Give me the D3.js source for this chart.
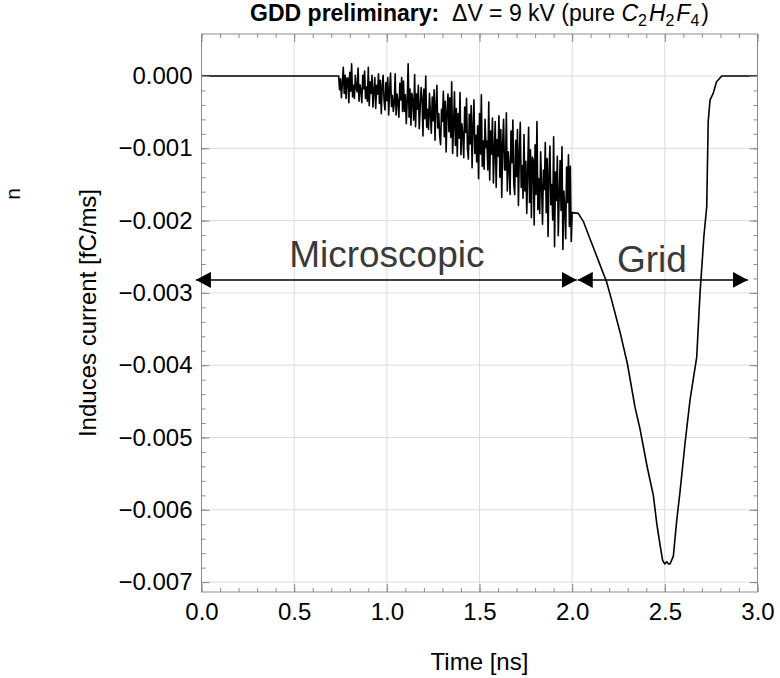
<!DOCTYPE html>
<html>
<head>
<meta charset="utf-8">
<script src="https://cdn.jsdelivr.net/npm/d3@7"></script>
<style>
  html, body { margin: 0; padding: 0; background: #fff; }
  svg { display: block; font-family: "Liberation Sans", Arial, Helvetica, sans-serif; }
</style>
</head>
<body>
<svg id="chart" width="780" height="678"></svg>
<script>
// ---------------- DATA (current values in units of 1e-4 fC/ms) ----------------
const VALUE_UNIT = 1e-4;

// flat baseline before the microscopic avalanche
const flatTimes  = [0.0, 0.74];
const flatValues = [0.0, 0.0];

// noisy microscopic region, sampled every 0.005 ns from 0.74 ns to 2.0 ns
const noiseStart = 0.74;
const noiseStep  = 0.005;
const noiseValues = [
  0.0, -1.9, -0.4, -3.0, -1.0, 1.2, -2.4, 0.1, -3.1, -0.3,
  -0.3, -3.7, 0.5, -2.1, 1.7, -2.9, -1.3, -3.1, 0.1, -1.7,
  -2.2, 1.1, -3.5, -1.2, -2.0, -3.7, 0.1, -1.8, 0.7, -3.1,
  -1.5, -3.5, 1.2, -4.1, -0.8, -2.4, 0.1, -4.3, -2.1, -0.2,
  -4.5, -1.3, -2.5, 0.3, -3.8, -0.6, -5.2, -1.5, 0.1, -3.4,
  -4.7, -0.9, -3.4, -0.2, -5.4, -1.9, 0.4, -4.2, -2.7, -4.9,
  -3.8, 0.3, -5.4, -2.5, -3.6, -5.7, -1.0, -3.3, -0.2, -4.9,
  -0.7, -4.9, -2.6, -6.6, -3.5, 1.7, -5.7, -1.8, -6.8, -2.4,
  -3.4, -6.1, 0.2, -7.0, -2.5, -4.6, -1.3, -7.3, -4.3, -1.6,
  -3.1, -8.3, -1.8, -5.9, 0.0, -7.1, -4.6, -7.4, -2.4, -5.2,
  -7.9, -2.9, -6.2, -1.9, -8.9, -4.2, -1.3, -7.2, -5.2, -8.2,
  -9.5, -4.6, -6.3, -2.1, -8.4, -3.5, -10.5, -4.9, -2.5, -7.7,
  -3.0, -8.5, -0.8, -10.7, -6.7, -2.2, -9.6, -4.5, -11.1, -5.2,
  -8.6, -2.3, -10.9, -6.6, -8.2, -11.3, -4.3, -7.8, -3.1, -10.1,
  -11.5, -5.3, -9.4, -4.1, -12.7, -7.0, -3.3, -10.7, -8.2, -11.9,
  -6.9, -14.2, -5.2, -10.8, -2.6, -12.5, -9.0, -12.9, -6.0, -9.9,
  -9.0, -13.0, -3.6, -14.4, -7.6, -10.8, -5.8, -14.8, -10.3, -6.3,
  -15.4, -8.8, -11.1, -5.5, -14.0, -7.4, -16.8, -9.3, -6.0, -13.0,
  -13.0, -5.1, -15.9, -10.5, -12.5, -16.4, -7.6, -12.0, -6.1, -14.9,
  -16.4, -8.9, -13.9, -7.4, -17.9, -10.9, -6.4, -15.4, -12.4, -16.9,
  -8.1, -15.9, -11.8, -19.0, -13.3, -7.1, -17.5, -10.2, -19.6, -11.2,
  -11.6, -20.6, -9.5, -16.4, -6.3, -18.5, -14.2, -19.0, -10.5, -15.3,
  -20.5, -13.0, -15.7, -9.2, -18.9, -11.4, -22.2, -13.5, -9.7, -17.8,
  -15.0, -19.9, -8.4, -23.6, -13.3, -17.2, -11.1, -22.1, -16.6, -11.7,
  -18.6, -9.8, -24.0, -15.9, -18.1, -22.5, -12.6, -17.5, -10.9, -20.8,
  -12.5, -22.9, -18.9
];

// grid (ion) pulse
const pulseTimes = [2.033, 2.06, 2.096, 2.141, 2.186, 2.213, 2.258, 2.298, 2.339, 2.366,
  2.402, 2.42, 2.438, 2.456, 2.472, 2.488, 2.5, 2.51, 2.52, 2.528, 2.546, 2.564, 2.582,
  2.609, 2.636, 2.672, 2.69, 2.711, 2.726, 2.734, 2.744, 2.761, 2.779, 2.807, 3.0];
const pulseValues = [-19.0, -20.1, -22.5, -25.5, -28.5, -31.0, -35.4, -39.8, -45.8, -48.8,
  -53.7, -55.9, -58.0, -61.8, -64.5, -67.0, -67.5, -67.2, -67.5, -67.5, -66.4, -61.5, -57.5,
  -50.8, -44.8, -38.9, -30.0, -22.1, -18.1, -6.3, -3.3, -2.4, -0.8, 0.0, 0.0];

// axis ticks
const xTicks = [0.0, 0.5, 1.0, 1.5, 2.0, 2.5, 3.0];
const xTickLabels = ["0.0", "0.5", "1.0", "1.5", "2.0", "2.5", "3.0"];
const yTicks = [0.000, -0.001, -0.002, -0.003, -0.004, -0.005, -0.006, -0.007];
const yTickLabels = ["0.000", "\u22120.001", "\u22120.002", "\u22120.003", "\u22120.004", "\u22120.005", "\u22120.006", "\u22120.007"];

// annotation arrows: [from time, to time], at current level (fC/ms)
const arrowLabels = ["Microscopic", "Grid"];
const arrowFrom   = [-0.03, 2.03];
const arrowTo     = [2.025, 2.948];
const arrowLevel  = -0.00282;

// ---------------- LAYOUT ----------------
const svg = d3.select("#chart");
const L = 201.5, R = 757.5, T = 34, B = 592;
const x = d3.scaleLinear().domain([0, 3]).range([L, R]);
const y = d3.scaleLinear().domain([-0.007137, 0.000581]).range([B, T]);

// gridlines
const grid = svg.append("g").attr("stroke", "#dcdcdc").attr("stroke-width", 1);
grid.selectAll("line.gx").data(xTicks).join("line")
  .attr("x1", d => x(d)).attr("x2", d => x(d)).attr("y1", T).attr("y2", B);
grid.selectAll("line.gy").data(yTicks).join("line")
  .attr("x1", L).attr("x2", R).attr("y1", d => y(d)).attr("y2", d => y(d));

// build the series
const series = [];
flatTimes.forEach((t, i) => series.push([t, flatValues[i] * VALUE_UNIT]));
noiseValues.forEach((v, i) => series.push([noiseStart + i * noiseStep, v * VALUE_UNIT]));
pulseTimes.forEach((t, i) => series.push([t, pulseValues[i] * VALUE_UNIT]));

const line = d3.line().x(d => x(d[0])).y(d => y(d[1]));
svg.append("path").datum(series)
  .attr("d", line).attr("fill", "none").attr("stroke", "#000")
  .attr("stroke-width", 1.6).attr("stroke-linejoin", "round");

// axes (Mathematica-style frame with inward ticks)
const minorX = d3.range(0, 3.0001, 0.1);
const minorY = d3.range(0, -0.0071, -0.0002);
function styleAxis(g) {
  g.select(".domain").remove();
  g.selectAll(".tick line").attr("stroke", "#8c8c8c");
  g.selectAll(".tick text").attr("fill", "#000").style("font-size", "24px")
    .style("font-family", "'Liberation Sans', Arial, Helvetica, sans-serif");
}
svg.append("g").attr("transform", `translate(0,${B})`)
  .call(d3.axisBottom(x).tickValues(minorX).tickSize(-4).tickFormat("")).call(styleAxis);
svg.append("g").attr("transform", `translate(0,${B})`)
  .call(d3.axisBottom(x).tickValues(xTicks).tickSize(-8).tickPadding(11)
    .tickFormat((d, i) => xTickLabels[i])).call(styleAxis);
svg.append("g").attr("transform", `translate(0,${T})`)
  .call(d3.axisTop(x).tickValues(minorX).tickSize(-4).tickFormat("")).call(styleAxis);
svg.append("g").attr("transform", `translate(0,${T})`)
  .call(d3.axisTop(x).tickValues(xTicks).tickSize(-8).tickFormat("")).call(styleAxis);
svg.append("g").attr("transform", `translate(${L},0)`)
  .call(d3.axisLeft(y).tickValues(minorY).tickSize(-4).tickFormat("")).call(styleAxis);
svg.append("g").attr("transform", `translate(${L},0)`)
  .call(d3.axisLeft(y).tickValues(yTicks).tickSize(-8).tickPadding(9)
    .tickFormat((d, i) => yTickLabels[i])).call(styleAxis);
svg.append("g").attr("transform", `translate(${R},0)`)
  .call(d3.axisRight(y).tickValues(minorY).tickSize(-4).tickFormat("")).call(styleAxis);
svg.append("g").attr("transform", `translate(${R},0)`)
  .call(d3.axisRight(y).tickValues(yTicks).tickSize(-8).tickFormat("")).call(styleAxis);

// frame
svg.append("rect").attr("x", L).attr("y", T).attr("width", R - L).attr("height", B - T)
  .attr("fill", "none").attr("stroke", "#8c8c8c").attr("stroke-width", 1);

// annotation arrows
const defs = svg.append("defs");
defs.append("marker").attr("id", "ah").attr("viewBox", "0 0 15 16")
  .attr("refX", 15).attr("refY", 8).attr("markerWidth", 15).attr("markerHeight", 16)
  .attr("markerUnits", "userSpaceOnUse").attr("orient", "auto-start-reverse")
  .append("path").attr("d", "M0,0 L15,8 L0,16 Z").attr("fill", "#000");

arrowLabels.forEach((lab, i) => {
  svg.append("line")
    .attr("x1", x(arrowFrom[i])).attr("x2", x(arrowTo[i]))
    .attr("y1", y(arrowLevel)).attr("y2", y(arrowLevel))
    .attr("stroke", "#000").attr("stroke-width", 1.5)
    .attr("marker-start", "url(#ah)").attr("marker-end", "url(#ah)");
});
svg.append("text").attr("x", x(1.0)).attr("y", 267).attr("text-anchor", "middle")
  .attr("fill", "#3a3a3a").style("font-size", "37px").text(arrowLabels[0]);
svg.append("text").attr("x", x(2.43)).attr("y", 272).attr("text-anchor", "middle")
  .attr("fill", "#3a3a3a").style("font-size", "37px").text(arrowLabels[1]);

// title
const title = svg.append("text").attr("x", (L + R) / 2).attr("y", 21)
  .attr("text-anchor", "middle").style("font-size", "23px").attr("fill", "#000");
title.append("tspan").attr("font-weight", "bold").text("GDD preliminary:");
title.append("tspan").attr("xml:space", "preserve").text("\u00a0\u00a0\u0394V = 9 kV (pure ");
const chem = [["C", "2"], ["H", "2"], ["F", "4"]];
chem.forEach(([el, n]) => {
  title.append("tspan").attr("font-style", "italic").text(el);
  title.append("tspan").attr("dy", 5).style("font-size", "16px").text(n);
  title.append("tspan").attr("dy", -5).text("\u200a");
});
title.append("tspan").text(")");

// axis labels
svg.append("text").attr("x", (L + R) / 2).attr("y", 670).attr("text-anchor", "middle")
  .style("font-size", "24px").attr("fill", "#000").text("Time [ns]");
svg.append("text").attr("transform", `translate(96,${(T + B) / 2}) rotate(-90)`)
  .attr("text-anchor", "middle").style("font-size", "24px").attr("fill", "#000")
  .text("Induces current [fC/ms]");
svg.append("text").attr("transform", "translate(20,194) rotate(-90)")
  .attr("text-anchor", "middle").style("font-size", "21px").attr("fill", "#000").text("n");
</script>
</body>
</html>
